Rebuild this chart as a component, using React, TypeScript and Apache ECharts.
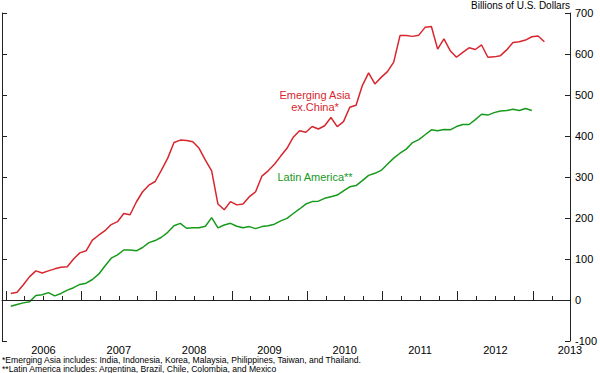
import React, { useEffect, useRef } from 'react';
import * as echarts from 'echarts';

// Monthly observations starting January 2006 (billions of U.S. dollars)
const START_YEAR = 2006;

const emergingAsia = [
  16, 19, 37, 57, 71, 66, 71, 76, 80, 81, 100, 115,
  120, 146, 158, 169, 184, 191, 211, 208, 239, 264, 280, 289,
  317, 346, 384, 390, 389, 386, 370, 341, 315, 234, 220, 240,
  232, 234, 252, 264, 302, 315, 331, 351, 370, 397, 413, 409,
  423, 417, 425, 445, 423, 435, 470, 475, 523, 554, 527, 543,
  557, 580, 645, 645, 643, 646, 665, 667, 612, 637, 608, 592,
  604, 615, 611, 622, 592, 593, 596, 610, 628, 630, 634, 642,
  644, 630,
];

const latinAmerica = [
  -15, -11, -7, -4, 11, 13, 18, 10, 16, 24, 30, 38,
  41, 50, 63, 83, 102, 110, 122, 122, 120, 128, 140, 145,
  153, 165, 181, 187, 175, 176, 176, 180, 201, 176, 183, 187,
  180, 176, 179, 174, 179, 181, 185, 193, 199, 211, 222, 234,
  240, 241, 248, 252, 256, 266, 276, 279, 291, 304, 309, 316,
  331, 346, 358, 368, 384, 391, 403, 415, 413, 416, 415, 423,
  428, 428, 440, 453, 451, 457, 461, 462, 465, 462, 467, 462,
];

const yearTicks = [2006, 2007, 2008, 2009, 2010, 2011, 2012, 2013];
const yearLabelPositions = [2006.5, 2007.5, 2008.5, 2009.5, 2010.5, 2011.5, 2012.5, 2013.49];
const quarterTicks = [
  2006.25, 2006.5, 2006.75, 2007.25, 2007.5, 2007.75, 2008.25, 2008.5, 2008.75,
  2009.25, 2009.5, 2009.75, 2010.25, 2010.5, 2010.75, 2011.25, 2011.5, 2011.75,
  2012.25, 2012.5, 2012.75, 2013.25,
];

const X_MIN = 2005.95;
const X_MAX = 2013.49;
const Y_MIN = -100;
const Y_MAX = 700;
const Y_INTERVAL = 100;

const FONT = 'Liberation Sans, Arial, Helvetica, sans-serif';
const RED = '#d7262e';
const GREEN = '#17991c';
const AXIS = '#222';

const toPoints = (vals: number[]) =>
  vals.map((v, i) => [START_YEAR + (i + 0.8) / 12, v]);

export default function App() {
  const ref = useRef<HTMLDivElement>(null);

  useEffect(() => {
    if (!ref.current) return;
    const chart = echarts.init(ref.current, null, { renderer: 'svg' });
    chart.setOption({
      animation: false,
      backgroundColor: '#fff',
      textStyle: { fontFamily: FONT },
      grid: { left: 2, right: 27, top: 13, bottom: 32, containLabel: false },
      xAxis: [
        {
          type: 'value',
          min: X_MIN,
          max: X_MAX,
          position: 'bottom',
          axisLine: { show: true, lineStyle: { color: AXIS, width: 1 } },
          axisTick: {
            show: true,
            inside: true,
            length: 9,
            customValues: yearTicks,
            lineStyle: { color: AXIS, width: 1 },
          },
          axisLabel: {
            show: true,
            customValues: yearLabelPositions,
            formatter: (v: number) => String(Math.floor(v)),
            color: '#000',
            fontSize: 11,
            lineHeight: 9,
            fontFamily: FONT,
            margin: 4,
          },
          splitLine: { show: false },
        },
        {
          type: 'value',
          min: X_MIN,
          max: X_MAX,
          position: 'bottom',
          axisLine: { show: false },
          axisTick: {
            show: true,
            inside: true,
            length: 4,
            customValues: quarterTicks,
            lineStyle: { color: AXIS, width: 1 },
          },
          axisLabel: { show: false },
          splitLine: { show: false },
        },
      ],
      yAxis: [
        {
          type: 'value',
          position: 'right',
          min: Y_MIN,
          max: Y_MAX,
          interval: Y_INTERVAL,
          axisLine: { show: true, lineStyle: { color: AXIS, width: 1 } },
          axisTick: { show: true, inside: true, length: 5, lineStyle: { color: AXIS } },
          axisLabel: { color: '#000', fontSize: 11, lineHeight: 8, fontFamily: FONT, margin: 5 },
          splitLine: { show: false },
        },
        {
          type: 'value',
          position: 'left',
          min: Y_MIN,
          max: Y_MAX,
          interval: Y_INTERVAL,
          axisLine: { show: true, lineStyle: { color: AXIS, width: 1 } },
          axisTick: { show: true, inside: true, length: 5, lineStyle: { color: AXIS } },
          axisLabel: { show: false },
          splitLine: { show: false },
        },
      ],
      series: [
        {
          name: 'Emerging Asia ex.China',
          type: 'line',
          xAxisIndex: 0,
          yAxisIndex: 0,
          data: toPoints(emergingAsia),
          showSymbol: false,
          lineStyle: { color: RED, width: 1.5 },
          itemStyle: { color: RED },
          markLine: {
            silent: true,
            symbol: ['none', 'none'],
            label: { show: false },
            lineStyle: { color: AXIS, type: 'solid', width: 1 },
            data: [{ yAxis: 0 }],
          },
        },
        {
          name: 'Latin America',
          type: 'line',
          xAxisIndex: 0,
          yAxisIndex: 0,
          data: toPoints(latinAmerica),
          showSymbol: false,
          lineStyle: { color: GREEN, width: 1.5 },
          itemStyle: { color: GREEN },
        },
      ],
      graphic: [
        {
          type: 'text',
          right: 30,
          top: 0,
          style: { text: 'Billions of U.S. Dollars', fill: '#000', font: `10px ${FONT}` },
        },
        {
          type: 'text',
          x: 315,
          y: 95,
          style: {
            text: 'Emerging Asia',
            fill: RED,
            font: `11px ${FONT}`,
            textAlign: 'center',
            textVerticalAlign: 'middle',
          },
        },
        {
          type: 'text',
          x: 315,
          y: 107,
          style: {
            text: 'ex.China*',
            fill: RED,
            font: `11px ${FONT}`,
            textAlign: 'center',
            textVerticalAlign: 'middle',
          },
        },
        {
          type: 'text',
          x: 315,
          y: 177,
          style: {
            text: 'Latin America**',
            fill: GREEN,
            font: `11px ${FONT}`,
            textAlign: 'center',
            textVerticalAlign: 'middle',
          },
        },
        {
          type: 'text',
          x: 2,
          y: 359.5,
          style: {
            text: '*Emerging Asia includes: India, Indonesia, Korea, Malaysia, Philippines, Taiwan, and Thailand.',
            fill: '#000',
            font: `8.6px ${FONT}`,
            lineHeight: 9,
            textVerticalAlign: 'middle',
          },
        },
        {
          type: 'text',
          x: 2,
          y: 368.5,
          style: {
            text: '**Latin America includes: Argentina, Brazil, Chile, Colombia, and Mexico',
            fill: '#000',
            font: `8.6px ${FONT}`,
            lineHeight: 9,
            textVerticalAlign: 'middle',
          },
        },
      ],
    });
    return () => chart.dispose();
  }, []);

  return (
    <div
      ref={ref}
      style={{ position: 'absolute', left: 0, top: 0, width: 600, height: 373 }}
    />
  );
}
